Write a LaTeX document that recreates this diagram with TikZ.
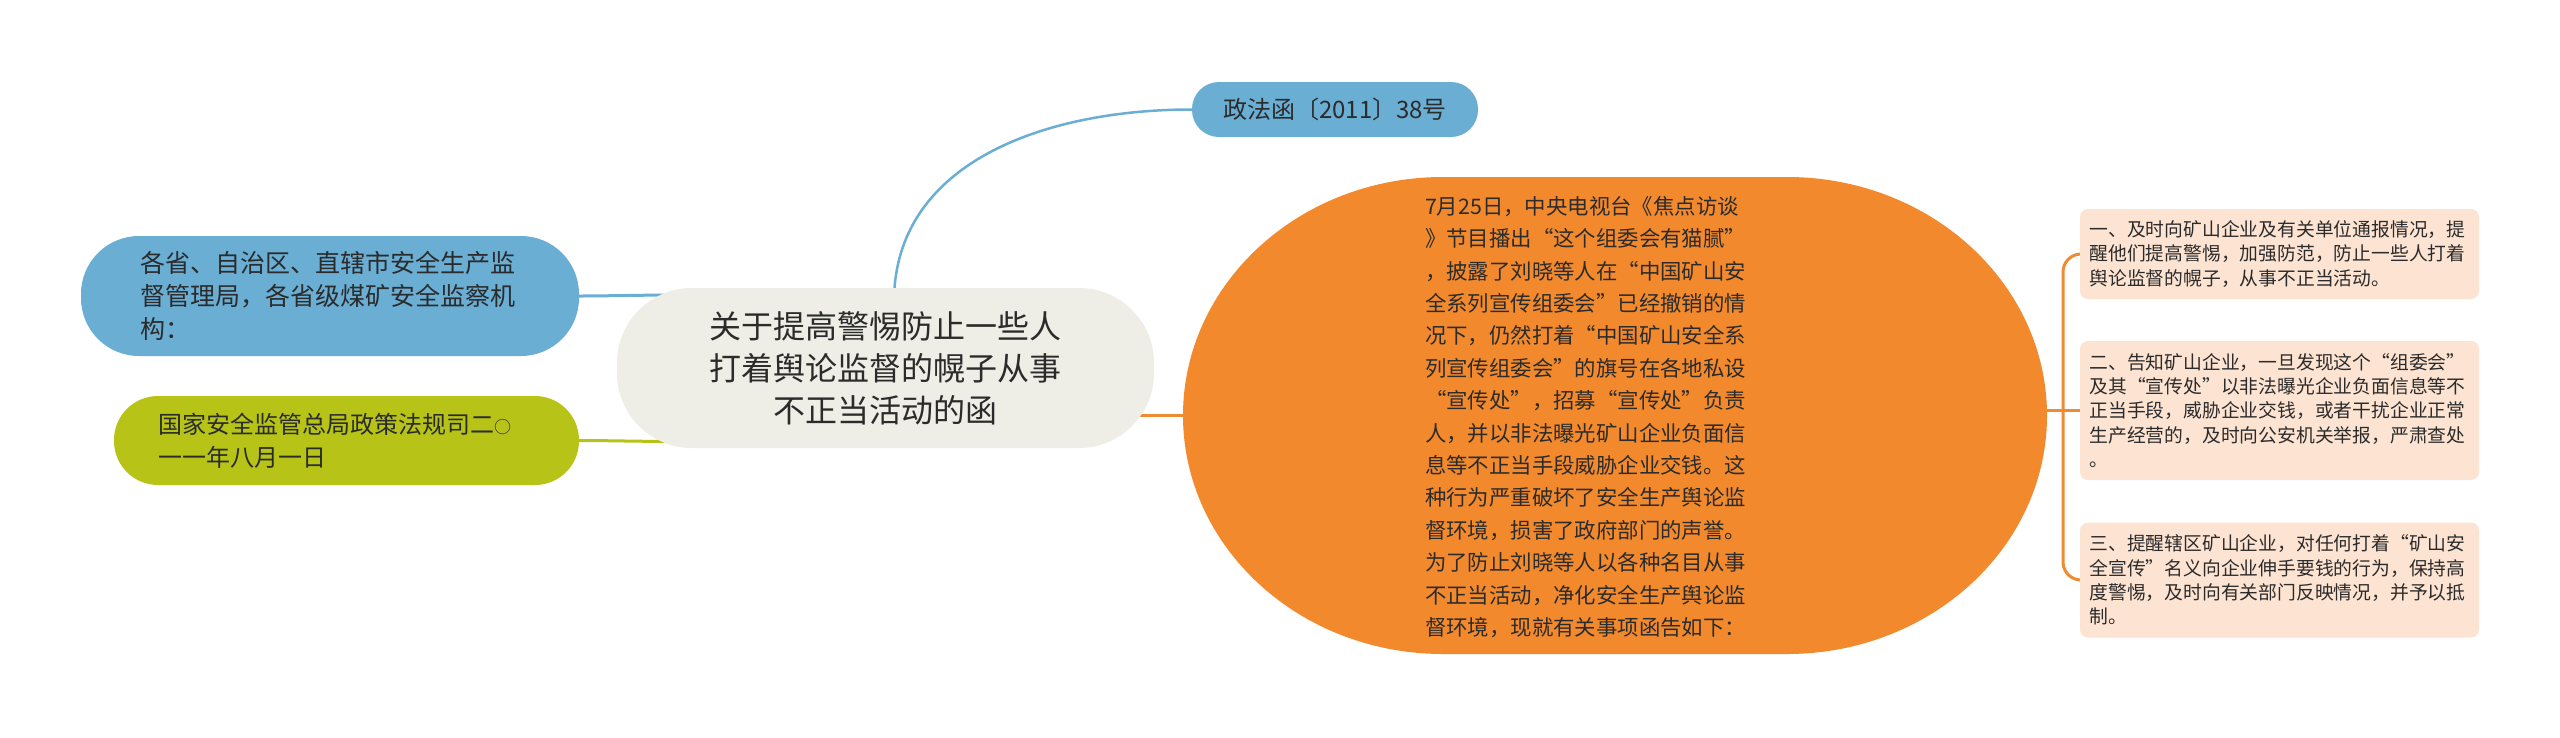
\documentclass[tikz,border=0pt]{standalone}
\usepackage{fontspec}
\setmainfont{Noto Sans CJK SC}
\usetikzlibrary{calc}
\definecolor{cblue}{HTML}{6AAED4}
\definecolor{cgreen}{HTML}{B7C417}
\definecolor{corange}{HTML}{F28A2D}
\definecolor{cpeach}{HTML}{FDE4D2}
\definecolor{ccentral}{HTML}{EEEEE6}
\definecolor{ctext}{HTML}{2B2B2B}
\definecolor{corline}{HTML}{EE8B33}
\pgfdeclarelayer{background}
\pgfdeclarelayer{canvas}
\pgfsetlayers{canvas,background,main}
\begin{document}
\begin{tikzpicture}[x=1pt,y=-1pt,
  pill/.style={rectangle, inner sep=0pt, text=ctext},
  centralnode/.style={pill, fill=ccentral, rounded corners=75, minimum width=537, minimum height=160,
     align=center, font=\fontsize{32}{42}\selectfont},
  zfnode/.style={pill, fill=cblue, rounded corners=27, minimum width=286, minimum height=55,
     font=\fontsize{24}{30}\selectfont},
  bluenode/.style={pill, fill=cblue, rounded corners=58, minimum width=498, minimum height=120,
     text width=380, align=left, font=\fontsize{25}{33}\selectfont},
  greennode/.style={pill, fill=cgreen, rounded corners=44, minimum width=465, minimum height=89,
     text width=377, align=left, font=\fontsize{24}{33}\selectfont},
  otextnode/.style={inner sep=0pt, align=left, text=ctext, font=\fontsize{21.4}{32.4}\selectfont},
  rbox/.style={pill, fill=cpeach, rounded corners=8, minimum width=399,
     text width=380, align=left, font=\fontsize{18.8}{24.3}\selectfont},
  bconn/.style={draw=cblue, line width=3pt},
  gconn/.style={draw=cgreen, line width=3pt},
  oconn/.style={draw=corline, line width=3pt}]
\begin{pgfonlayer}{canvas}
\fill[white] (0,0) rectangle (2560,737);
\end{pgfonlayer}
\useasboundingbox (0,0) rectangle (2560,737);

% nodes
\node[centralnode] (central) at (885.5,368) {关于提高警惕防止一些人\\打着舆论监督的幌子从事\\不正当活动的函};
\node[zfnode] (zf) at (1335,109.5) {政法函〔2011〕38号};
\node[bluenode] (bleft) at (330,296) {各省、自治区、直辖市安全生产监\\督管理局，各省级煤矿安全监察机\\构：};
\node[greennode] (gleft) at (346.5,440.5) {国家安全监管总局政策法规司二{\fontsize{17}{20}\selectfont ○}\\一一年八月一日};
\node[inner sep=0pt, minimum width=864, minimum height=477] (orange) at (1615,415.5) {};
\node[otextnode] (otext) at (1585.5,417) {7月25日，中央电视台《焦点访谈\\》节目播出“这个组委会有猫腻”\\，披露了刘晓等人在“中国矿山安\\全系列宣传组委会”已经撤销的情\\况下，仍然打着“中国矿山安全系\\列宣传组委会”的旗号在各地私设\\“宣传处”，招募“宣传处”负责\\人，并以非法曝光矿山企业负面信\\息等不正当手段威胁企业交钱。这\\种行为严重破坏了安全生产舆论监\\督环境，损害了政府部门的声誉。\\为了防止刘晓等人以各种名目从事\\不正当活动，净化安全生产舆论监\\督环境，现就有关事项函告如下：};
\node[rbox, minimum height=90] (r1) at (2279.5,254) {一、及时向矿山企业及有关单位通报情况，提\\醒他们提高警惕，加强防范，防止一些人打着\\舆论监督的幌子，从事不正当活动。};
\node[rbox, minimum height=139] (r2) at (2279.5,410.5) {二、告知矿山企业，一旦发现这个“组委会”\\及其“宣传处”以非法曝光企业负面信息等不\\正当手段，威胁企业交钱，或者干扰企业正常\\生产经营的，及时向公安机关举报，严肃查处\\。};
\node[rbox, minimum height=115] (r3) at (2279.5,580) {三、提醒辖区矿山企业，对任何打着“矿山安\\全宣传”名义向企业伸手要钱的行为，保持高\\度警惕，及时向有关部门反映情况，并予以抵\\制。};
\coordinate (bx) at (2063,410.5);

\begin{pgfonlayer}{background}
  % connectors
  \draw[bconn, line width=2.5pt] ([xshift=9]central.north) .. controls +(10,-130) and +(-140,0) .. (zf.west);
  \draw[bconn] (bleft.east) .. controls +(40,0) and +(-40,-2) .. ([xshift=90]central.west |- bleft.east);
  \draw[gconn] (gleft.east) .. controls +(40,0) and +(-40,2) .. ([xshift=90]central.west |- gleft.east);
  \draw[oconn] (orange.west) -- (central.center |- orange.west);
  \draw[oconn] (orange.east |- r2.west) -- (r2.west);
  \draw[oconn, rounded corners=18] (r1.west) -| (bx) |- (r3.west);
  % orange shape
  \fill[corange] (1183,415.5) .. controls (1183,283.8) and (1299.4,177) .. (1443,177)
     -- (1787,177) .. controls (1930.6,177) and (2047,283.8) .. (2047,415.5)
     .. controls (2047,547.2) and (1930.6,654) .. (1787,654)
     -- (1443,654) .. controls (1299.4,654) and (1183,547.2) .. (1183,415.5) -- cycle;
\end{pgfonlayer}
\end{tikzpicture}
\end{document}
